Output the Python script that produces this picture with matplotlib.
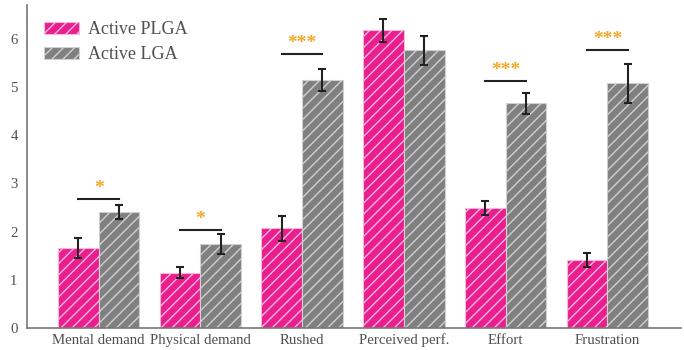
import matplotlib
matplotlib.use("Agg")
import matplotlib.pyplot as plt
import numpy as np

plt.rcParams['font.family'] = ['Liberation Serif', 'DejaVu Serif']
plt.rcParams['hatch.color'] = 'white'
plt.rcParams['hatch.linewidth'] = 1.0

categories = ["Mental demand", "Physical demand", "Rushed",
              "Perceived perf.", "Effort", "Frustration"]
plga_mean = [1.66, 1.15, 2.07, 6.17, 2.49, 1.41]
plga_err = [0.21, 0.11, 0.26, 0.23, 0.15, 0.15]
lga_mean = [2.40, 1.74, 5.15, 5.76, 4.66, 5.07]
lga_err = [0.15, 0.21, 0.23, 0.30, 0.22, 0.40]

# significance brackets: (category index, bracket height, label)
sig_idx = [0, 1, 2, 4, 5]
sig_height = [2.68, 2.04, 5.69, 5.13, 5.76]
sig_label = ["*", "*", "***", "***", "***"]

PINK = "#ea1e8e"
GRAY = "#808080"
TEXT = "#505050"

fig = plt.figure(figsize=(6.84, 3.5), dpi=100)
ax = fig.add_axes([0.04, 0.063, 0.955, 0.923])

x = np.arange(len(categories))
w = 0.4
ax.bar(x - w / 2, plga_mean, w, color=PINK, edgecolor="#f7b8d9", linewidth=0.8,
       hatch="///", label="Active PLGA")
ax.bar(x + w / 2, lga_mean, w, color=GRAY, edgecolor="#d0d0d0", linewidth=0.8,
       hatch="///", label="Active LGA")
ax.errorbar(x - w / 2, plga_mean, yerr=plga_err, fmt="none", ecolor="#222222",
            elinewidth=1.5, capsize=3, capthick=1.5)
ax.errorbar(x + w / 2, lga_mean, yerr=lga_err, fmt="none", ecolor="#222222",
            elinewidth=1.5, capsize=3, capthick=1.5)

for i, h, lab in zip(sig_idx, sig_height, sig_label):
    ax.plot([i - w / 2, i + w / 2], [h, h], color="#222222", lw=1.5)
    ax.text(i, h + 0.04, lab, ha="center", va="bottom", color="#f5a623",
            fontsize=14, fontweight="bold")

ax.set_xlim(-0.7, 5.72)
ax.set_ylim(0, 6.7)
ax.set_xticks(x)
ax.set_xticklabels(categories)
ax.set_yticks(range(7))
ax.tick_params(length=0, colors=TEXT, labelsize=10.7)
ax.tick_params(axis="x", pad=4)
ax.tick_params(axis="y", pad=7)
for s in ["top", "right"]:
    ax.spines[s].set_visible(False)
for s in ["left", "bottom"]:
    ax.spines[s].set_color("#777777")
    ax.spines[s].set_linewidth(1.2)

leg = ax.legend(loc="upper left", bbox_to_anchor=(0.0, 1.0), frameon=False,
                fontsize=13, handlelength=1.95, handleheight=0.65,
                labelspacing=0.45, handletextpad=0.5)
for t in leg.get_texts():
    t.set_color(TEXT)

fig.savefig("out.png", dpi=100)
